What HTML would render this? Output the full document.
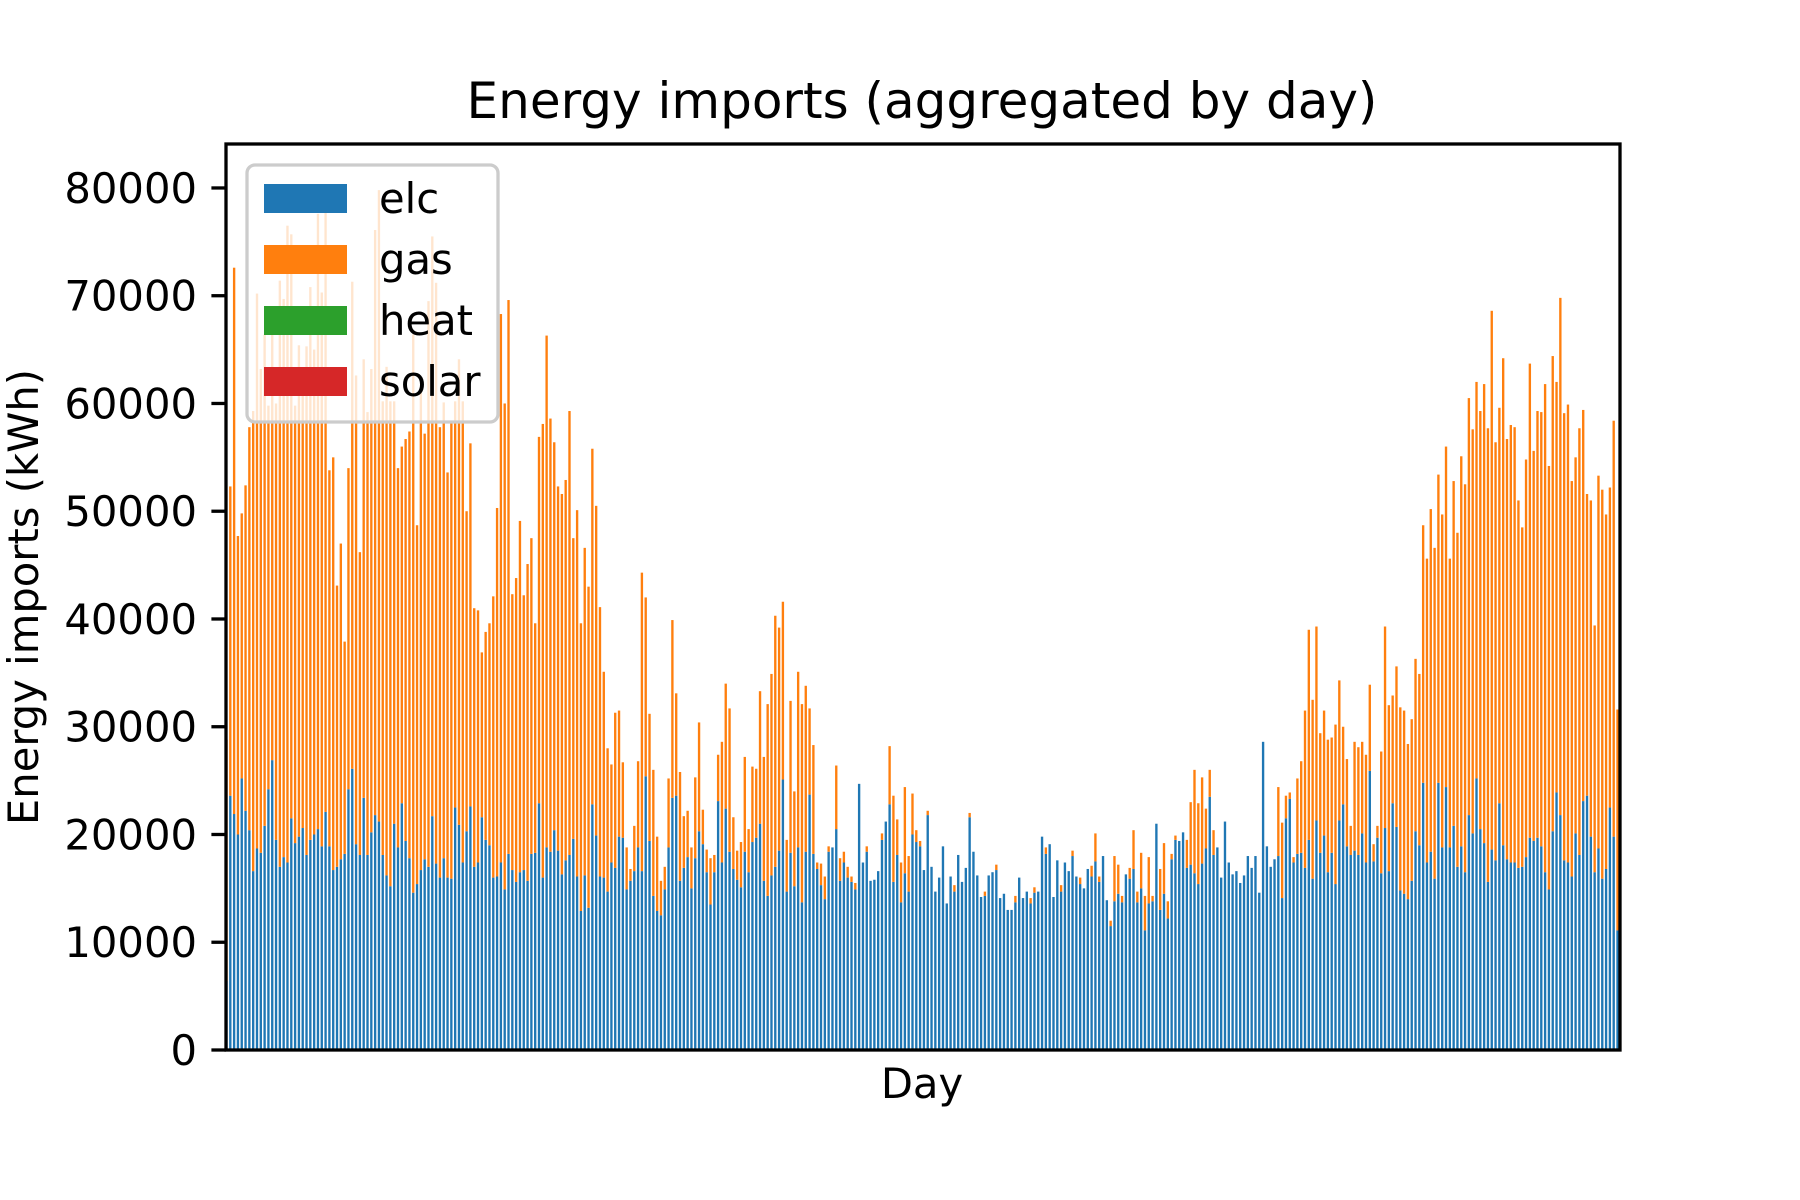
<!DOCTYPE html>
<html><head><meta charset="utf-8"><style>
html,body{margin:0;padding:0;background:#fff;}
svg{display:block;font-family:"DejaVu Sans","Liberation Sans",sans-serif;}
</style></head><body>
<svg id="chart" width="1800" height="1200" viewBox="0 0 1800 1200" xmlns="http://www.w3.org/2000/svg">
<rect x="0" y="0" width="1800" height="1200" fill="#fff"/>
<defs><clipPath id="plotclip"><rect x="226" y="144" width="1393" height="906"/></clipPath></defs>
<g id="bars" clip-path="url(#plotclip)"></g>
<g id="yticks"></g>
<rect x="226" y="144" width="1394" height="906" fill="none" stroke="#000" stroke-width="3.3"/>
<text x="922" y="118" font-size="50" text-anchor="middle" fill="#000">Energy imports (aggregated by day)</text>
<text x="922" y="1098" font-size="41.7" text-anchor="middle" fill="#000">Day</text>
<text x="0" y="0" font-size="41.7" text-anchor="middle" fill="#000" transform="translate(38,597) rotate(-90)">Energy imports (kWh)</text>
<g id="legend">
<rect x="247" y="165" width="251" height="257" rx="8" fill="#fff" fill-opacity="0.8" stroke="#cccccc" stroke-width="3.3"/>
<g><rect x="264" y="184" width="83" height="29" fill="#1f77b4"/><text x="379" y="213" font-size="41.7">elc</text></g>
<g><rect x="264" y="245" width="83" height="29" fill="#ff7f0e"/><text x="379" y="274" font-size="41.7">gas</text></g>
<g><rect x="264" y="306" width="83" height="29" fill="#2ca02c"/><text x="379" y="335" font-size="41.7">heat</text></g>
<g><rect x="264" y="367" width="83" height="29" fill="#d62728"/><text x="379" y="396" font-size="41.7">solar</text></g>
</g>
</svg>
<script>
const yTicks = [0,10000,20000,30000,40000,50000,60000,70000,80000];
const elc = [6400,23600,21900,20000,25200,22200,20400,16600,18700,18300,20800,24200,26900,19500,17000,17900,17400,21500,19200,19800,20600,18100,19500,20000,20500,18900,22100,18900,16700,17000,17700,18200,24200,26100,19100,18100,23400,18100,20200,21800,21200,18100,16200,15200,21000,18800,22900,19400,17800,14600,15400,16700,17700,17000,21700,17300,16000,17800,16000,15900,22500,20900,17400,20300,22600,17000,17400,21600,19500,19000,16000,16100,17400,14900,18200,16700,15600,16500,16700,15700,18200,18300,22900,16000,18800,18400,20400,18500,16300,17600,18100,19600,
16100,12900,16200,13200,22800,19900,16100,16000,14700,17400,16900,19800,19700,14900,15700,16600,18800,16600,25400,19400,14300,12900,12500,14900,18800,23400,23600,15700,16900,17900,15000,17800,20300,19100,16500,13500,16500,23100,17400,22400,18400,16800,15800,15100,18400,16500,19300,19700,21000,15700,14300,16200,17000,18500,25100,14700,18300,15200,18800,13700,18400,23700,18200,16800,15300,14000,18400,18800,20500,15700,17400,16000,15600,14900,24700,17400,18400,15700,15800,16600,19500,21200,22800,15600,18100,13700,16400,14700,20000,19300,18900,16700,
21800,17000,14700,16000,18900,13600,16100,14700,18100,15600,16900,21600,18400,16200,14200,14300,16200,16500,16700,14100,14500,13000,13000,13700,16000,14100,14700,13600,14600,14700,19800,18200,19100,14200,17600,14700,17400,16600,18000,16100,15400,15000,16800,16100,17500,15600,18000,13900,11500,13800,14500,13700,16300,15900,16800,13700,15000,11100,13600,13800,21000,13000,14500,12200,17700,19500,19400,20200,16900,17200,16400,15400,17300,18700,23500,18100,18800,16000,21200,17400,16300,16600,15500,16200,18000,16900,18000,14600,28600,18900,17000,17700,
18000,14100,21500,23300,17400,18200,18300,16900,19500,15900,21300,18300,19900,16500,18300,15400,21300,22800,18900,18100,18500,18100,20100,17400,25900,17500,19700,16400,20600,16600,22900,20700,14800,14500,14000,15700,20300,19000,24800,17400,18400,15900,24800,18800,24400,18800,20800,17000,18900,16500,21800,20100,25200,20500,19200,15600,18600,17600,22900,19000,17700,17400,17400,16900,17000,17900,19700,19400,19700,18900,16500,14900,20300,23900,21800,17600,17400,16100,20100,18100,23100,23600,19800,16500,18700,15900,16800,22500,19800,11100];
const gas = [22400,28700,50700,27700,24600,30200,37400,42700,51500,44900,45600,35600,39500,40500,54400,51800,59100,54200,40600,45600,41000,47200,51300,45000,57100,51400,55600,34900,38300,26100,29300,19700,29800,45200,43500,28100,40700,41100,43000,54300,58600,42100,47200,45000,39200,35200,33100,37300,39600,51800,33300,44800,39500,52500,53800,53900,41800,42300,37600,42400,37700,43200,42800,29700,33700,24000,23400,15300,19300,20600,26100,34200,50900,45100,51400,25600,28200,32600,25500,29400,29300,21300,34000,42100,47500,40200,36000,33800,35300,35300,41200,27900,
34000,26700,30400,29800,33000,30600,25000,19100,13300,9100,14400,11700,7000,3900,1100,4200,8000,27700,16600,11800,11700,6900,3200,2100,6400,16500,9500,10100,4800,4300,3800,7500,10100,3200,2100,4300,1600,4300,11200,11600,13300,4800,2700,4200,8800,4000,7000,6400,12300,11500,17800,18700,23300,20700,16500,4800,14100,8800,16300,18400,15400,8000,10100,600,2000,2100,500,0,5900,2100,1000,1000,500,600,0,0,500,0,0,0,600,0,5400,8000,3300,3700,8000,3300,3800,1100,500,0,
400,0,0,0,0,0,0,600,0,0,0,400,0,0,0,400,0,0,500,0,0,0,0,600,0,0,0,500,500,0,0,600,0,0,0,600,0,0,500,0,600,0,0,1000,2600,500,0,0,500,4200,2700,600,0,1000,3600,1000,3300,3200,4300,500,0,3800,4700,1600,500,400,0,0,2600,5800,9600,7500,8000,3700,2500,2300,0,0,0,0,0,0,0,0,0,0,0,0,0,0,0,0,
6400,7000,2100,600,500,7000,8500,14600,19500,16600,18000,11100,11600,12300,10700,14800,13000,7200,8100,2700,10100,10000,8500,10000,8000,1600,1100,11300,18700,15400,10000,14900,17000,17000,14400,15000,16000,15900,23900,28200,31800,30700,28600,30900,31600,26800,32000,31000,36200,36000,38700,37500,36800,38800,42600,42100,50000,38800,36700,45200,39000,40600,40400,34100,31500,36900,44000,36200,39600,40300,45300,39300,44100,38100,48000,41500,42500,36700,34900,39600,36300,28000,31200,22900,34600,36100,32900,29700,38600,20500];

const NS = 'http://www.w3.org/2000/svg';
const plotL = 226, plotR = 1620, plotT = 144, plotB = 1050;
const yMax = 84080;
const x0 = 226.5, pitch = 3.811, barW = 0.62;
function xScale(i){ return x0 + i * pitch; }
function yScale(v){ return plotB - v / yMax * (plotB - plotT); }

const barsG = document.getElementById('bars');
for (let i = 0; i < elc.length; i++) {
  const cx = xScale(i), w = barW * pitch;
  const rE = document.createElementNS(NS, 'rect');
  
  
  rE.setAttribute('x', (cx - w / 2).toFixed(2));
  rE.setAttribute('y', yScale(elc[i]).toFixed(2));
  rE.setAttribute('width', w.toFixed(2));
  rE.setAttribute('height', (plotB - yScale(elc[i])).toFixed(2));
  rE.setAttribute('fill', '#1f77b4');
  barsG.appendChild(rE);
  if (gas[i] > 0) {
    const rG = document.createElementNS(NS, 'rect');
    
    
    rG.setAttribute('x', (cx - w / 2).toFixed(2));
    rG.setAttribute('y', yScale(elc[i] + gas[i]).toFixed(2));
    rG.setAttribute('width', w.toFixed(2));
    rG.setAttribute('height', (yScale(elc[i]) - yScale(elc[i] + gas[i])).toFixed(2));
    rG.setAttribute('fill', '#ff7f0e');
    barsG.appendChild(rG);
  }
}

const tg = document.getElementById('yticks');
yTicks.forEach(function(t){
  const y = yScale(t);
  const ln = document.createElementNS(NS, 'line');
  
  
  ln.setAttribute('x1', plotL - 14.6); ln.setAttribute('x2', plotL);
  ln.setAttribute('y1', y); ln.setAttribute('y2', y);
  ln.setAttribute('stroke', '#000'); ln.setAttribute('stroke-width', '3.3');
  tg.appendChild(ln);
  const tx = document.createElementNS(NS, 'text');
  
  
  tx.setAttribute('x', plotL - 29);
  tx.setAttribute('y', y + 15);
  tx.setAttribute('font-size', '41.7');
  tx.setAttribute('text-anchor', 'end');
  tx.textContent = String(t);
  tg.appendChild(tx);
});
</script>
</body></html>
